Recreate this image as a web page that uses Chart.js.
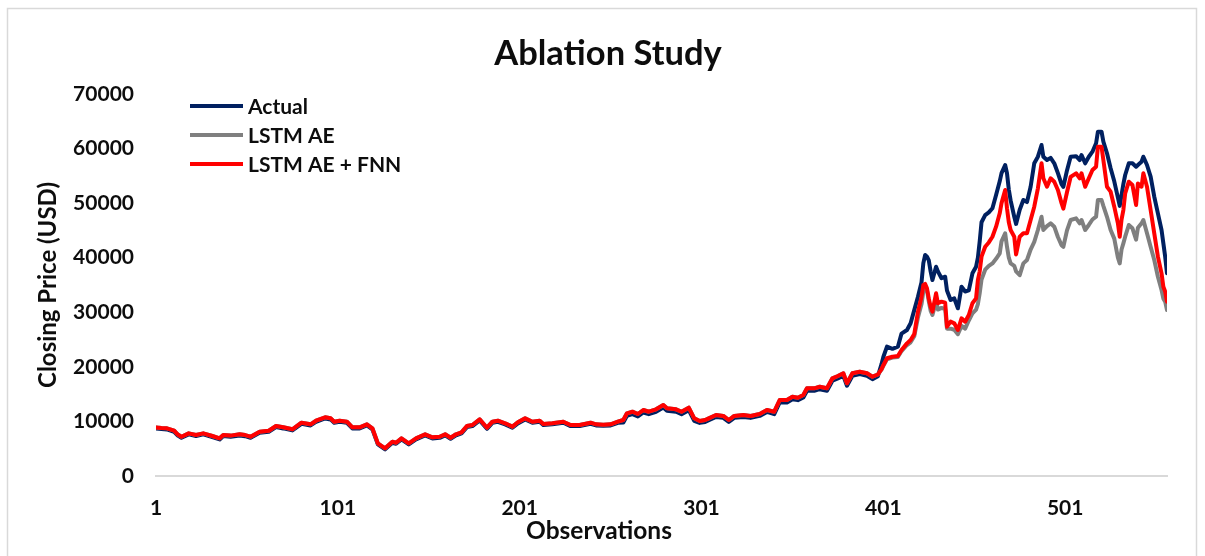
<!DOCTYPE html>
<html>
<head>
<meta charset="utf-8">
<script src="https://cdn.jsdelivr.net/npm/chart.js@4/dist/chart.umd.min.js"></script>
<style>
  html, body { margin: 0; padding: 0; background: #fff; }
  #wrap { position: relative; width: 1205px; height: 556px; }
</style>
</head>
<body>
<div id="wrap"><canvas id="c" width="1205" height="556"></canvas></div>
<script>
// Observation index of each sampled point
const obs = [1,4,7,11,13,15,19,23,27,32,36,38,42,47,50,53,58,63,67,71,76,81,86,89,94,97,99,102,106,109,113,117,120,123,127,131,133,136,140,144,149,153,157,160,163,166,169,172,175,179,183,186,189,193,197,200,204,208,212,214,219,225,229,234,240,243,247,251,255,258,260,263,266,269,272,276,280,282,287,290,294,297,300,303,305,309,313,316,319,324,328,333,337,341,344,348,351,354,357,359,363,366,370,373,376,379,381,384,388,392,395,
  398,400,401,403,406,409,411,414,416,418,420,422,423,424,425,426,427,428,430,431,433,435,436,438,440,442,444,446,448,450,452,453,454,455,457,459,461,463,465,466,468,469,470,471,473,474,476,478,480,482,484,486,488,489,491,493,495,497,499,500,502,504,507,509,510,512,514,516,518,519,521,522,524,526,528,530,531,532,533,534,536,538,540,541,543,544,546,548,550,552,554,555,556,557];

// Closing price, USD
const actual = [8700,8600,8540,8100,7400,7000,7620,7310,7620,7130,6700,7310,7200,7440,7300,7000,7920,8100,8960,8720,8360,9570,9270,9930,10550,10370,9750,9930,9750,8720,8720,9270,8540,5790,4880,6090,5900,6700,5790,6700,7440,6890,7000,7440,6820,7440,7800,8960,9150,10190,8650,9750,9930,9460,8840,9640,10370,9750,9930,9330,9460,9750,9150,9150,9570,9270,9200,9270,9750,9810,11040,11330,10910,11640,11330,11770,12560,11960,11770,11330,12070,10120,9730,9910,10220,10830,10650,9910,10650,10830,10650,11010,11740,11330,13480,13480,14080,13900,14390,15620,15620,15910,15620,17450,17880,18370,16540,18370,18660,18370,17750,
  18300,20500,21800,23700,23300,23700,26100,26750,27980,30400,32800,35500,39000,40500,40200,39500,37500,35900,38350,37500,36230,36520,34000,32250,32560,30730,34690,33800,34000,37140,38350,40000,43000,46500,47800,48300,49060,51500,54000,55500,56990,55470,52500,50500,47500,46200,48800,50580,50200,53010,57300,58510,60660,58510,57900,58300,57300,55500,53500,53000,56000,58510,58600,57900,58820,57300,58510,59430,60970,63090,63090,61260,59130,56390,54000,51000,49500,51500,53500,55160,57300,57300,56680,57000,57600,58510,56990,54850,51180,48130,45080,42630,40190,37140];

const lstmAE = [8900,8800,8740,8300,7600,7200,7820,7510,7820,7330,6900,7510,7400,7640,7500,7200,8120,8300,9160,8920,8560,9770,9470,10130,10750,10570,9950,10130,9950,8920,8920,9470,8740,5990,5080,6290,6100,6900,5990,6900,7640,7090,7200,7640,7020,7640,8000,9160,9350,10390,8850,9950,10130,9660,9040,9840,10570,9950,10130,9530,9660,9950,9350,9350,9770,9470,9400,9470,9950,10260,11490,11780,11360,12090,11780,12220,13010,12410,12220,11780,12520,10570,10080,10260,10570,11180,11000,10260,11000,11180,11000,11360,12090,11780,13930,13930,14530,14350,14840,16070,16070,16360,16070,17900,18330,18820,16990,18820,19110,18820,18200,
  18600,19500,20200,21400,21700,21800,22900,24000,24500,25600,29000,31500,33800,34500,34000,32000,30300,29500,32000,30500,30800,30600,27000,27000,26800,26000,27500,27000,28500,29800,30500,31500,33500,36000,37800,38500,38960,39800,40800,43000,44470,42020,40000,38960,38500,37500,36800,38960,39580,41500,42900,45080,47520,45080,45800,46300,45690,43800,42300,42000,45000,46910,47220,46300,46910,45080,46000,47000,47520,50580,50580,49500,47500,45080,43500,40000,38960,41500,42630,43850,45990,45390,43300,45500,46300,46910,44470,42020,39580,36520,34080,32500,31950,30420];

const lstmAEFNN = [8900,8800,8740,8300,7600,7200,7820,7510,7820,7330,6900,7510,7400,7640,7500,7200,8120,8300,9160,8920,8560,9770,9470,10130,10750,10570,9950,10130,9950,8920,8920,9470,8740,5990,5080,6290,6100,6900,5990,6900,7640,7090,7200,7640,7020,7640,8000,9160,9350,10390,8850,9950,10130,9660,9040,9840,10570,9950,10130,9530,9660,9950,9350,9350,9770,9470,9400,9470,9950,10260,11490,11780,11360,12090,11780,12220,13010,12410,12220,11780,12520,10570,10080,10260,10570,11180,11000,10260,11000,11180,11000,11360,12090,11780,13930,13930,14530,14350,14840,16070,16070,16360,16070,17900,18330,18820,16990,18820,19110,18820,18200,
  18600,19600,20300,21570,21860,21990,23090,24300,24920,26000,30000,32860,35000,35200,34400,32500,31030,30110,33480,31650,31950,31760,27360,28280,27980,26750,28900,28280,29500,31650,32560,35920,37500,40190,42020,42800,43850,45690,48130,50000,52410,49060,46500,45080,43850,40600,43850,44470,44470,46910,49350,52720,57300,54550,53010,54550,53930,52410,50000,49000,52000,54800,55470,54550,55470,53010,54550,56070,56680,60350,60350,57900,53010,52100,49350,46300,43850,47000,48740,51800,53930,53320,49660,53620,53010,55470,53010,48740,44470,40190,37140,34690,33780,31950];

const seriesNames = ['Actual', 'LSTM AE', 'LSTM AE + FNN'];
const xTickValues = [1, 101, 201, 301, 401, 501];
const yTickStep = 10000;
const yMax = 70000;
const lastObs = 557;

const FONT = 'Lato, "Open Sans", sans-serif';
const INK = '#0d0d0d';

const toPoints = arr => obs.map((x, i) => ({ x: x, y: arr[i] }));

// White background and a light frame around the whole figure
const framePlugin = {
  id: 'frame',
  beforeDraw(chart) {
    const ctx = chart.ctx;
    ctx.save();
    ctx.fillStyle = '#ffffff';
    ctx.fillRect(0, 0, chart.width, chart.height);
    ctx.strokeStyle = '#d9d9d9';
    ctx.lineWidth = 1.5;
    ctx.strokeRect(7.5, 8.5, 1189, 560);
    ctx.restore();
  }
};

// Legend inside the plot (top-left) and the horizontal axis title
const annotations = {
  id: 'annotations',
  afterDraw(chart) {
    const ctx = chart.ctx;
    const x0 = 190, x1 = 243, tx = 248, y0 = 106, dy = 29;
    ctx.save();
    ctx.font = 'bold 21px ' + FONT;
    ctx.textBaseline = 'middle';
    ctx.textAlign = 'left';
    chart.data.datasets.forEach((ds, i) => {
      const y = y0 + i * dy;
      ctx.strokeStyle = ds.borderColor;
      ctx.lineWidth = 4;
      ctx.lineCap = 'butt';
      ctx.beginPath();
      ctx.moveTo(x0, y);
      ctx.lineTo(x1, y);
      ctx.stroke();
      ctx.fillStyle = INK;
      ctx.fillText(ds.label, tx, y + 1);
    });

    ctx.font = 'bold 24.5px ' + FONT;
    ctx.textAlign = 'center';
    ctx.fillText('Observations', 599, 531);
    ctx.restore();
  }
};

const lineStyle = {
  pointRadius: 0,
  pointHoverRadius: 0,
  borderWidth: 4,
  tension: 0,
  fill: false,
  borderJoinStyle: 'round',
  borderCapStyle: 'round'
};

new Chart(document.getElementById('c'), {
  type: 'line',
  data: {
    datasets: [
      Object.assign({ label: seriesNames[0], data: toPoints(actual), borderColor: '#002060', order: 2 }, lineStyle),
      Object.assign({ label: seriesNames[1], data: toPoints(lstmAE), borderColor: '#7f7f7f', order: 1 }, lineStyle),
      Object.assign({ label: seriesNames[2], data: toPoints(lstmAEFNN), borderColor: '#ff0000', order: 0 }, lineStyle)
    ]
  },
  options: {
    responsive: false,
    animation: false,
    events: [],
    layout: { padding: { left: 49, right: 38, top: 10, bottom: 0 } },
    plugins: {
      legend: { display: false },
      tooltip: { enabled: false },
      title: {
        display: true,
        text: 'Ablation Study',
        color: INK,
        font: { family: FONT, size: 34.5, weight: 'bold' },
        padding: { top: 23.3, bottom: 19.3 }
      }
    },
    scales: {
      x: {
        type: 'linear',
        min: 1,
        max: lastObs,
        afterBuildTicks(scale) { scale.ticks = xTickValues.map(v => ({ value: v })); },
        afterFit(scale) { scale.height = 80; },
        grid: { display: false, drawTicks: false },
        border: { display: true, color: '#d9d9d9', width: 2 },
        ticks: {
          color: INK,
          padding: 20,
          maxRotation: 0,
          autoSkip: false,
          font: { family: FONT, size: 21, weight: 'bold' },
          callback: v => String(v)
        }
      },
      y: {
        min: 0,
        max: yMax,
        afterFit(scale) { scale.width = 107; },
        grid: { display: false, drawTicks: false },
        border: { display: false },
        ticks: {
          stepSize: yTickStep,
          color: INK,
          padding: 22,
          font: { family: FONT, size: 21, weight: 'bold' },
          callback: v => String(v)
        },
        title: {
          display: true,
          text: 'Closing Price (USD)',
          color: INK,
          font: { family: FONT, size: 24, weight: 'bold' },
          padding: { top: -15.4, bottom: 0 }
        }
      }
    }
  },
  plugins: [framePlugin, annotations]
});
</script>
</body>
</html>
